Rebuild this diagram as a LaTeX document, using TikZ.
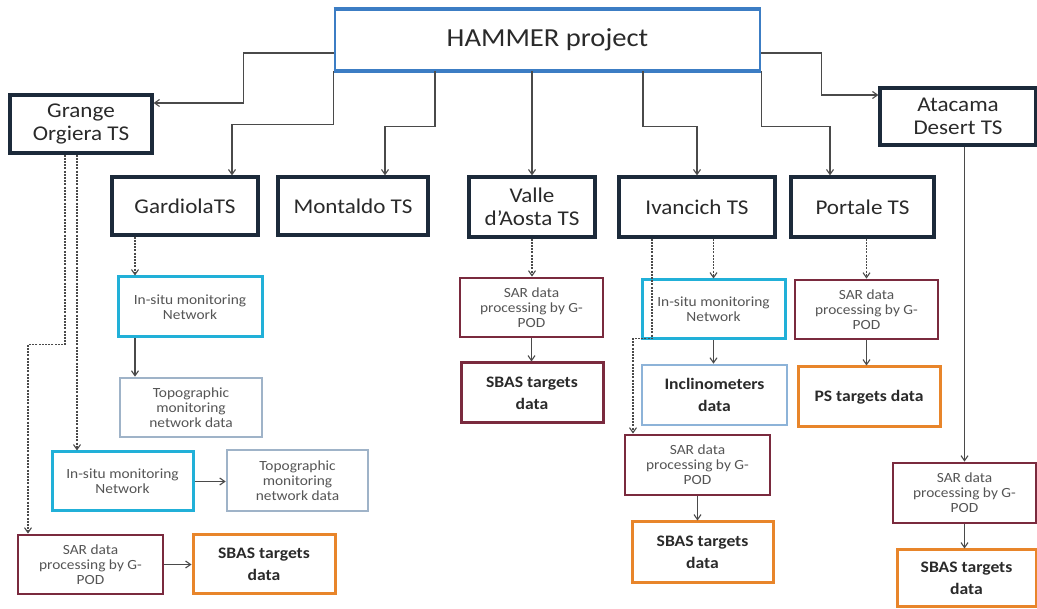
\documentclass[tikz,border=0pt]{standalone}
\usepackage{fontspec}
\setmainfont{Carlito}[FakeStretch=1.1]
\usetikzlibrary{arrows.meta}
\definecolor{navy}{HTML}{1C2A3A}
\definecolor{hblue}{HTML}{3C7DC4}
\definecolor{cyanb}{HTML}{21B0D8}
\definecolor{topob}{HTML}{9FB3C8}
\definecolor{maroon}{HTML}{7A2A3E}
\definecolor{orangeb}{HTML}{E8852A}
\definecolor{inclb}{HTML}{8DB3D8}
\definecolor{lgray}{HTML}{4A4A4A}
\definecolor{stext}{HTML}{555555}
\definecolor{dtext}{HTML}{2A2A2A}
\newcommand\mkbox[7]{\node[#6, minimum width={(#4-#2)*1pt}, minimum height={(#5-#3)*1pt}] (#1) at ({(#2+#4)/2},{(#3+#5)/2}) {#7};}
\tikzset{
  base/.style={draw, rectangle, fill=white, inner sep=0pt, align=center},
  tsbox/.style={base, draw=navy, line width=3.2pt, text=dtext, font=\fontsize{21}{23}\selectfont},
  hbox/.style={base, draw=hblue, line width=2.6pt, text=dtext, font=\fontsize{26}{28}\selectfont},
  small/.style={base, text=stext, font=\fontsize{14}{15}\selectfont},
  insitu/.style={small, draw=cyanb, line width=3pt},
  topo/.style={small, draw=topob, line width=2.6pt},
  sarbox/.style={small, draw=maroon, line width=2.8pt},
  boldbox/.style={base, text=dtext, font=\fontsize{16}{22}\selectfont\bfseries},
  sbasred/.style={boldbox, draw=maroon, line width=3pt},
  orangebox/.style={boldbox, draw=orangeb, line width=3pt},
  inclbox/.style={boldbox, draw=inclb, line width=2.6pt},
  conn/.style={draw=lgray, line width=1.1pt, -{Straight Barb[length=5pt,width=7pt]}},
  dconn/.style={conn, dash pattern=on 2pt off 1.2pt}
}
\begin{document}
\begin{tikzpicture}[x=1pt,y=-1pt]
\useasboundingbox[fill=white] (0,0) rectangle (1037,609);
% top level
\mkbox{H}{335}{10}{760}{70}{hbox}{HAMMER project}
\draw[hblue, line width=3.6pt] (H.north west) -- (H.north east) (H.south west) -- (H.south east);
\mkbox{GO}{10}{95}{152}{153}{tsbox}{Grange\\Orgiera TS}
\mkbox{GA}{112}{177}{258}{235}{tsbox}{GardiolaTS}
\mkbox{MO}{278}{177}{428}{235}{tsbox}{Montaldo TS}
\mkbox{VA}{469}{177}{595}{237}{tsbox}{Valle\\d'Aosta TS}
\mkbox{IV}{619}{177}{775}{237}{tsbox}{Ivancich TS}
\mkbox{PO}{791}{177}{934}{237}{tsbox}{Portale TS}
\mkbox{AT}{880}{88}{1036}{145}{tsbox}{Atacama\\Desert TS}
% Gardiola column
\mkbox{IS1}{118}{277}{262}{337}{insitu}{In-situ monitoring\\Network}
\mkbox{TP1}{120}{378}{262}{437}{topo}{Topographic\\monitoring\\network data}
% Grange column
\mkbox{IS2}{52}{452}{193}{511}{insitu}{In-situ monitoring\\Network}
\mkbox{TP2}{227}{450}{368}{511}{topo}{Topographic\\monitoring\\network data}
\mkbox{SAR1}{18}{535}{163}{594}{sarbox}{SAR data\\processing by G-\\POD}
\mkbox{SB1}{193}{535}{335}{593}{orangebox}{SBAS targets\\data}
% Valle
\mkbox{SAR2}{460}{278}{603}{337}{sarbox}{SAR data\\processing by G-\\POD}
\mkbox{SB2}{461}{363}{603}{423}{sbasred}{SBAS targets\\data}
% Ivancich
\mkbox{IS3}{642}{280}{785}{339}{insitu}{In-situ monitoring\\Network}
\mkbox{IN}{642}{365}{787}{425}{inclbox}{Inclinometers\\data}
\mkbox{SAR3}{625}{435}{770}{495}{sarbox}{SAR data\\processing by G-\\POD}
\mkbox{SB3}{632}{522}{773}{582}{orangebox}{SBAS targets\\data}
% Portale
\mkbox{SAR4}{795}{280}{938}{339}{sarbox}{SAR data\\processing by G-\\POD}
\mkbox{PS}{798}{367}{940}{427}{orangebox}{PS targets data}
% Atacama
\mkbox{SAR5}{893}{463}{1036}{523}{sarbox}{SAR data\\processing by G-\\POD}
\mkbox{SB5}{897}{550}{1036}{606}{orangebox}{SBAS targets\\data}
% connectors from HAMMER
\draw[conn] ([yshift=-13pt]H.west) -- ++(-90,0) |- ([yshift=21pt]GO.east);
\draw[conn] (H.south west) -- ++(0,53) -| ([xshift=47pt]GA.north);
\draw[conn] ([xshift=-112.5pt]H.south) -- ++(0,55) -| ([xshift=32pt]MO.north);
\draw[conn] (VA.north |- H.south) -- (VA.north);
\draw[conn] ([xshift=95.5pt]H.south) -- ++(0,55) -| (IV.north);
\draw[conn] (H.south east) -- ++(0,55) -| ([xshift=-32.5pt]PO.north);
\draw[conn] ([yshift=-13pt]H.east) -- ++(60,0) |- ([yshift=21.5pt]AT.west);
% Gardiola
\draw[dconn] ([xshift=-50pt]GA.south) -- ([xshift=-55pt]IS1.north);
\draw[conn] ([xshift=-55pt]IS1.south) -- ([xshift=-56pt]TP1.north);
% Grange
\draw[dconn] ([xshift=-4pt]GO.south) -- ([xshift=-45.5pt]IS2.north);
\draw[dconn] ([xshift=-16pt]GO.south) -- ++(0,190) -| ([xshift=-62.5pt]SAR1.north);
\draw[conn] (IS2.east) -- (IS2.east -| TP2.west);
\draw[conn] (SAR1.east) -- (SAR1.east -| SB1.west);
% Valle
\draw[dconn] (VA.south) -- (VA.south |- SAR2.north);
\draw[conn] (SAR2.south) -- (SAR2.south |- SB2.north);
% Ivancich
\draw[dconn] (IS3.north |- IV.south) -- (IS3.north);
\draw[dconn] ([xshift=-45pt]IV.south) -- ++(0,100) -| ([xshift=-64.5pt]SAR3.north);
\draw[conn] (IS3.south) -- (IS3.south |- IN.north);
\draw[conn] (SAR3.south) -- (SAR3.south |- SB3.north);
% Portale
\draw[dconn] (SAR4.north |- PO.south) -- (SAR4.north);
\draw[conn] (SAR4.south) -- (SAR4.south |- PS.north);
% Atacama
\draw[conn] (SAR5.north |- AT.south) -- (SAR5.north);
\draw[conn] (SAR5.south) -- (SAR5.south |- SB5.north);
\end{tikzpicture}
\end{document}
